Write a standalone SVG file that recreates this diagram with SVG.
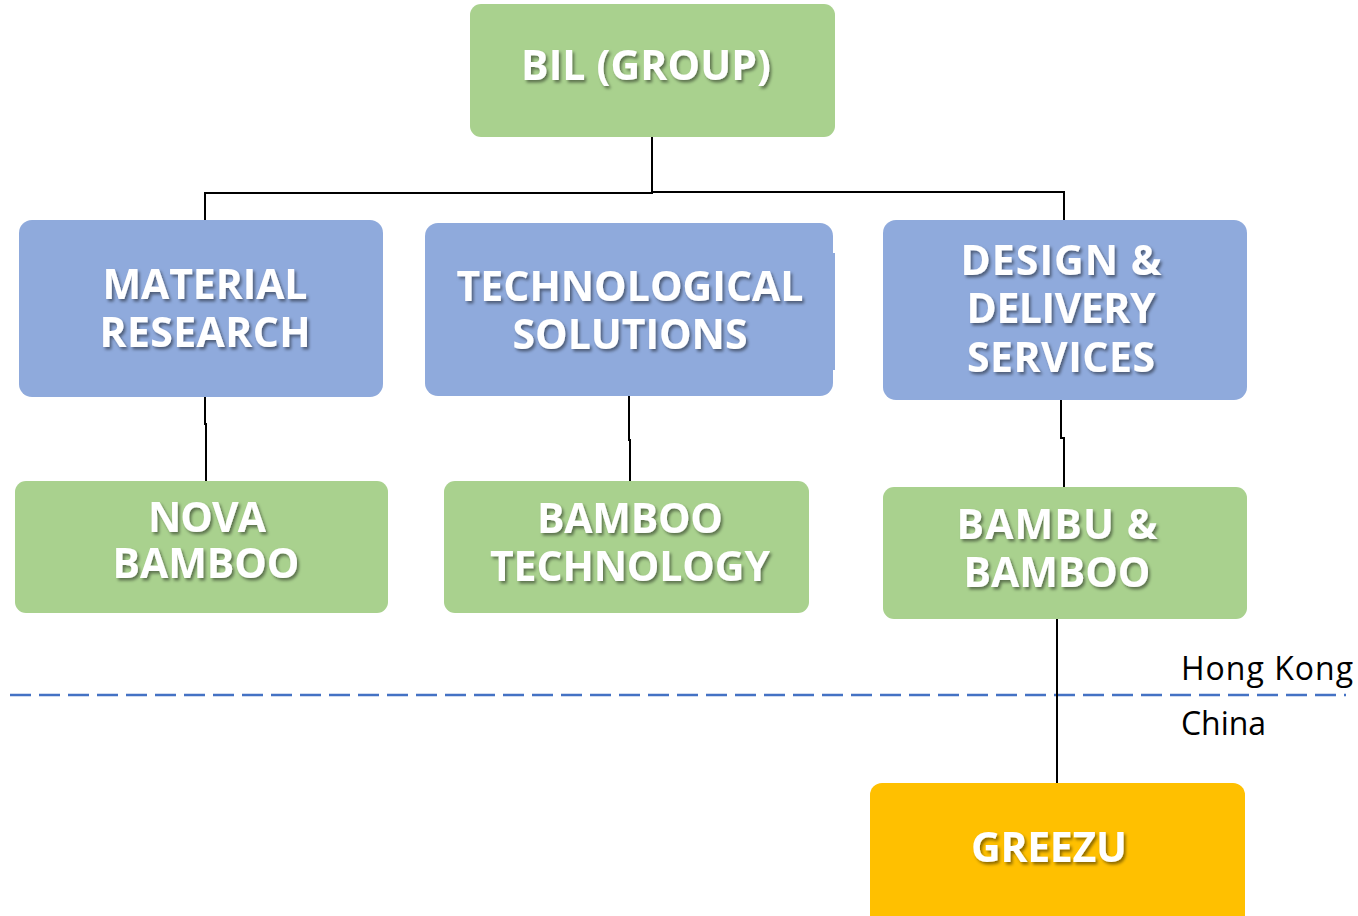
<svg xmlns="http://www.w3.org/2000/svg" width="1358" height="916" viewBox="0 0 1358 916">
  <defs>
    <filter id="txtShadow" x="-10%" y="-30%" width="130%" height="160%">
      <feDropShadow dx="2" dy="2.5" stdDeviation="1.4" flood-color="#000" flood-opacity="0.45"/>
    </filter>
  </defs>
  <style>
    .green { fill: #A9D18E; }
    .blue { fill: #8FAADC; }
    .gold { fill: #FFC000; }
    .label { font-family: "Open Sans", "Noto Sans", "Liberation Sans", sans-serif; font-weight: bold; font-size: 41px; fill: #FFFFFF; text-anchor: middle; filter: url(#txtShadow); }
    .region { font-family: "Open Sans", "Noto Sans", "Liberation Sans", sans-serif; font-size: 32px; fill: #000000; }
    .wire { fill: none; stroke: #000000; stroke-width: 2; }
    .border { fill: none; stroke: #4472C4; stroke-width: 2.5; stroke-dasharray: 21 8; }
  </style>

  <rect width="1358" height="916" fill="#FFFFFF"/>

  <!-- boundary between Hong Kong and China -->
  <line class="border" x1="10" y1="695" x2="1346" y2="695"/>
  <text class="region" x="1181" y="680" textLength="172" lengthAdjust="spacing">Hong Kong</text>
  <text class="region" x="1181" y="735" textLength="85" lengthAdjust="spacing">China</text>

  <!-- connectors -->
  <g id="connectors">
    <path class="wire" d="M652 137 V193 H205 V221"/>
    <path class="wire" d="M652 192 H1064 V221"/>
    <path class="wire" d="M205 397 V424 H206 V482"/>
    <path class="wire" d="M629 396 V440 H630 V484"/>
    <path class="wire" d="M1061 393 V438 H1064 V488"/>
    <path class="wire" d="M1057 608 V784"/>
  </g>

  <g id="bil-group">
    <rect class="green" x="470" y="4" width="365" height="133" rx="11"/>
    <text class="label" x="646" y="80" textLength="250" lengthAdjust="spacing">BIL (GROUP)</text>
  </g>

  <g id="material-research">
    <rect class="blue" x="19" y="220" width="364" height="177" rx="13"/>
    <text class="label" x="205" y="299" textLength="205" lengthAdjust="spacing">MATERIAL</text>
    <text class="label" x="205" y="347" textLength="211" lengthAdjust="spacing">RESEARCH</text>
  </g>

  <g id="technological-solutions">
    <rect class="blue" x="425" y="223" width="408" height="173" rx="13"/>
    <rect class="blue" x="830" y="253" width="5" height="117"/>
    <text class="label" x="630" y="301" textLength="347" lengthAdjust="spacing">TECHNOLOGICAL</text>
    <text class="label" x="630" y="349" textLength="235" lengthAdjust="spacing">SOLUTIONS</text>
  </g>

  <g id="design-delivery-services">
    <rect class="blue" x="883" y="220" width="364" height="180" rx="13"/>
    <text class="label" x="1061" y="275" textLength="201" lengthAdjust="spacing">DESIGN &amp;</text>
    <text class="label" x="1061" y="323" textLength="189" lengthAdjust="spacing">DELIVERY</text>
    <text class="label" x="1061" y="372" textLength="188" lengthAdjust="spacing">SERVICES</text>
  </g>

  <g id="nova-bamboo">
    <rect class="green" x="15" y="481" width="373" height="132" rx="11"/>
    <text class="label" x="207" y="532" textLength="118" lengthAdjust="spacing">NOVA</text>
    <text class="label" x="206" y="578" textLength="187" lengthAdjust="spacing">BAMBOO</text>
  </g>

  <g id="bamboo-technology">
    <rect class="green" x="444" y="481" width="365" height="132" rx="11"/>
    <text class="label" x="630" y="533" textLength="186" lengthAdjust="spacing">BAMBOO</text>
    <text class="label" x="630" y="581" textLength="280" lengthAdjust="spacing">TECHNOLOGY</text>
  </g>

  <g id="bambu-bamboo">
    <rect class="green" x="883" y="487" width="364" height="132" rx="11"/>
    <text class="label" x="1057" y="539" textLength="201" lengthAdjust="spacing">BAMBU &amp;</text>
    <text class="label" x="1057" y="587" textLength="187" lengthAdjust="spacing">BAMBOO</text>
  </g>

  <g id="greezu">
    <rect class="gold" x="870" y="783" width="375" height="145" rx="12"/>
    <text class="label" x="1049" y="862" textLength="156" lengthAdjust="spacing">GREEZU</text>
  </g>
</svg>
